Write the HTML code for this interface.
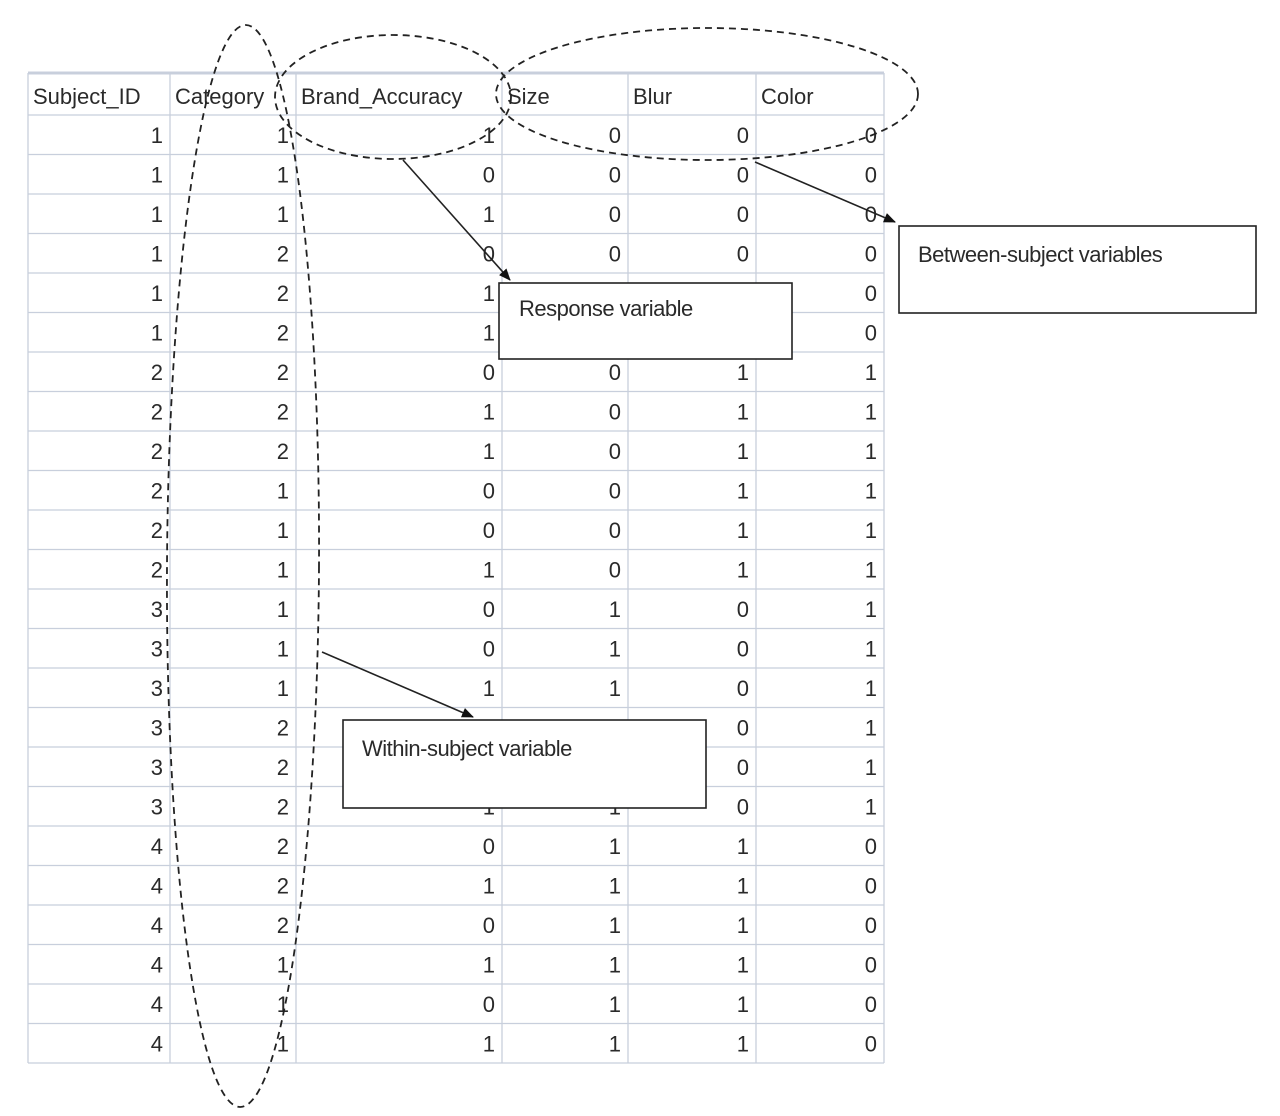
<!DOCTYPE html>
<html><head><meta charset="utf-8"><style>
html,body{margin:0;padding:0;background:#fff;}
svg{display:block;}
text{font-family:"Liberation Sans",sans-serif;fill:#2a2a2a;font-weight:500;}
</style></head><body>
<svg width="1280" height="1116" viewBox="0 0 1280 1116" xmlns="http://www.w3.org/2000/svg">
<defs><marker id="ah" markerWidth="12" markerHeight="10" refX="11" refY="5" orient="auto" markerUnits="userSpaceOnUse"><path d="M0,0 L12,5 L0,10 z" fill="#111"/></marker></defs>
<g id="grid" stroke="#c8cfdc" stroke-width="1.3" fill="none">
<line x1="28" y1="73" x2="884" y2="73" stroke-width="3"/>
</g>
<g id="tbl"></g>
<g fill="none" stroke="#222" stroke-width="1.8" stroke-dasharray="7,5">
<ellipse cx="243" cy="566" rx="76" ry="541" transform="rotate(0.3 243 566)"/>
<ellipse cx="393" cy="97" rx="118" ry="62"/>
<ellipse cx="707" cy="94" rx="211" ry="66"/>
</g>
<g stroke="#222" stroke-width="1.6" marker-end="url(#ah)">
<line x1="403" y1="160" x2="510" y2="280"/>
<line x1="755" y1="162" x2="895" y2="222"/>
<line x1="322" y1="652" x2="473" y2="717"/>
</g>
<g fill="#fff" stroke="#222" stroke-width="1.6">
<rect x="499" y="283" width="293" height="76"/>
<rect x="899" y="226" width="357" height="87"/>
<rect x="343" y="720" width="363" height="88"/>
</g>
<text x="519" y="316" font-size="22" style="letter-spacing:-0.5px">Response variable</text>
<text x="918" y="262" font-size="22" style="letter-spacing:-0.5px">Between-subject variables</text>
<text x="362" y="756" font-size="22" style="letter-spacing:-0.5px">Within-subject variable</text>
</svg>
<script>
(function(){
var NS="http://www.w3.org/2000/svg";
var cols=[28,170,296,502,628,756,884];
var top=115,pitch=39.5,n=24;
var grid=document.getElementById("grid");
function ln(x1,y1,x2,y2){var l=document.createElementNS(NS,"line");l.setAttribute("x1",x1);l.setAttribute("y1",y1);l.setAttribute("x2",x2);l.setAttribute("y2",y2);grid.appendChild(l);}
var bottom=top+n*pitch;
cols.forEach(function(c){ln(c,73,c,bottom);});
for(var i=0;i<=n;i++){var y=top+i*pitch;ln(28,y,884,y);}
var tbl=document.getElementById("tbl");
function tx(x,y,s,anchor){var t=document.createElementNS(NS,"text");t.setAttribute("x",x);t.setAttribute("y",y);t.setAttribute("font-size","22");if(anchor)t.setAttribute("text-anchor",anchor);t.textContent=s;tbl.appendChild(t);}
var hd=["Subject_ID","Category","Brand_Accuracy","Size","Blur","Color"];
hd.forEach(function(h,i){tx(cols[i]+5,104,h);});
var d=[[1,1,1,0,0,0],[1,1,0,0,0,0],[1,1,1,0,0,0],[1,2,0,0,0,0],[1,2,1,0,0,0],[1,2,1,0,0,0],
[2,2,0,0,1,1],[2,2,1,0,1,1],[2,2,1,0,1,1],[2,1,0,0,1,1],[2,1,0,0,1,1],[2,1,1,0,1,1],
[3,1,0,1,0,1],[3,1,0,1,0,1],[3,1,1,1,0,1],[3,2,1,1,0,1],[3,2,1,1,0,1],[3,2,1,1,0,1],
[4,2,0,1,1,0],[4,2,1,1,1,0],[4,2,0,1,1,0],[4,1,1,1,1,0],[4,1,0,1,1,0],[4,1,1,1,1,0]];
d.forEach(function(r,ri){var y=top+ri*pitch+28;r.forEach(function(v,ci){tx(cols[ci+1]-7,y,String(v),"end");});});
})();
</script>
</body></html>
